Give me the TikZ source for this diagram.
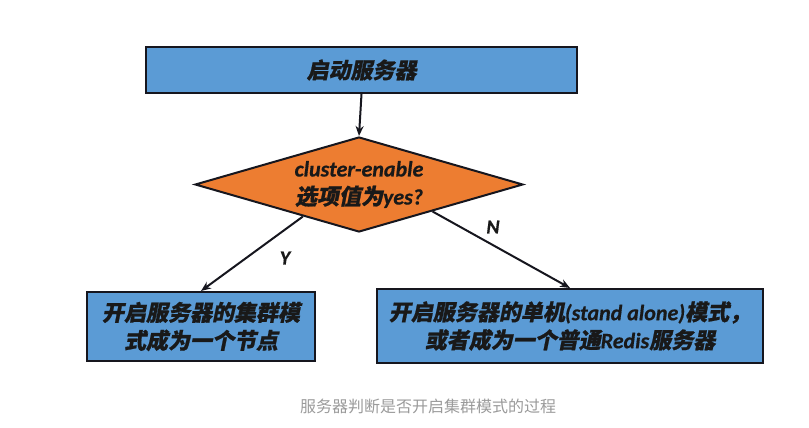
\documentclass[tikz,border=0pt]{standalone}
\usepackage{fontspec}
\setmainfont{Carlito}[BoldItalicFeatures={FakeBold=0.6}]
\newfontfamily\cjk{Noto Sans CJK SC}[FakeSlant=0.2,FakeBold=0.8]
\newfontfamily\cjkcap{Noto Sans CJK SC}
\usetikzlibrary{shapes.geometric,arrows.meta,calc}
\definecolor{boxblue}{HTML}{5B9BD5}
\definecolor{dorange}{HTML}{ED7D31}
\definecolor{edgecol}{HTML}{16161E}
\definecolor{capgray}{HTML}{9A9A9A}
\begin{document}
\begin{tikzpicture}[x=1pt,y=-1pt,
  box/.style={draw=edgecol, line width=2pt, fill=boxblue, inner sep=0pt,
    font=\fontsize{22}{28}\selectfont\bfseries\itshape, align=center, text=black!90},
  decision/.style={diamond, draw=edgecol, line width=2pt, fill=dorange, inner sep=0pt,
    shape aspect=3.45, minimum width=328pt, minimum height=95pt,
    font=\fontsize{22}{28}\selectfont\bfseries\itshape, align=center, text=black!90},
  conn/.style={draw=edgecol, line width=2pt, -{Stealth[length=10pt,width=8pt]}},
  lab/.style={font=\fontsize{20}{24}\selectfont\bfseries\itshape, text=black!90, inner sep=0pt},
  captext/.style={font=\fontsize{16}{20}\selectfont\cjkcap, text=capgray, inner sep=0pt}]
\useasboundingbox (0,0) rectangle (809,428);
\node[box, minimum width=431pt, minimum height=46pt] (start) at (361.5,70) {{\cjk 启动服务器}};
\node[decision] (dec) at (359,184.5) {cluster-enable\\{\cjk 选项值为}yes?};
\node[box, minimum width=228pt, minimum height=69pt] (cl) at (201,326.5)
  {{\cjk 开启服务器的集群模}\\{\cjk 式成为一个节点}};
\node[box, minimum width=386pt, minimum height=74pt] (sa) at (570,326)
  {{\cjk 开启服务器的单机}(stand alone){\cjk 模式，}\\{\cjk 或者成为一个普通}Redis{\cjk 服务器}};
\coordinate (yout) at ($(dec.west)!0.66!(dec.south)$);
\coordinate (nout) at ($(dec.south)!0.445!(dec.east)$);
\draw[conn] (start.south) -- (dec.north);
\draw[conn] (yout) -- (cl.north);
\draw[conn] (nout) -- (sa.north);
\node[lab] (ylab) at (285,258) {Y};
\node[lab] (nlab) at (493,227) {N};
\node[captext] (caption) at (428,406) {服务器判断是否开启集群模式的过程};
\end{tikzpicture}
\end{document}
